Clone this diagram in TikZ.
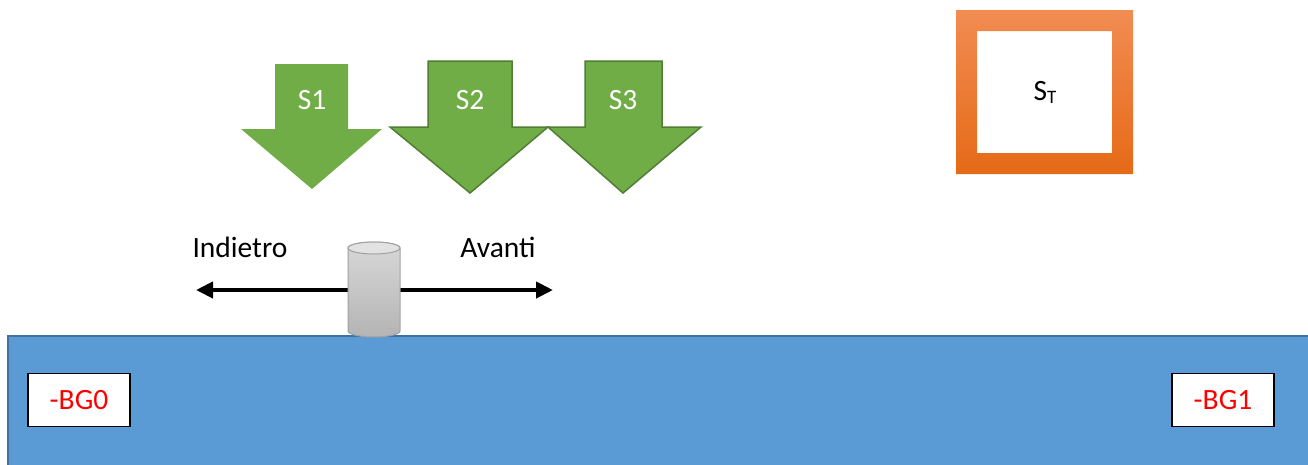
\documentclass[tikz,border=0pt]{standalone}
\usepackage{fontspec}
\setmainfont{Carlito}
\usetikzlibrary{arrows.meta}
\definecolor{grn}{HTML}{70AD47}
\definecolor{grnline}{HTML}{507E32}
\definecolor{barblue}{HTML}{5B9BD5}
\definecolor{barline}{HTML}{41719C}
\definecolor{orgtop}{HTML}{F28C52}
\definecolor{orgbot}{HTML}{E56A17}
\definecolor{cyltop}{HTML}{E2E2E2}
\definecolor{cylA}{HTML}{D8D8D8}
\definecolor{cylB}{HTML}{B4B4B4}
\definecolor{cylline}{HTML}{A0A0A0}
\begin{document}
\begin{tikzpicture}[x=1pt,y=-1pt,
  txt/.style={font=\fontsize{29.5}{32}\selectfont, inner sep=0pt},
  arrowlabel/.style={txt, text=white},
  bgbox/.style={draw=black, line width=1.2pt, fill=white, text=red,
    minimum width=102pt, minimum height=53pt, inner sep=0pt,
    font=\fontsize{29.5}{32}\selectfont},
  greenarrow/.style={fill=grn},
  greenarrowline/.style={fill=grn, draw=grnline, line width=1.5pt, line join=miter},
  movearrow/.style={line width=4pt, {Triangle[length=17pt,width=16pt]}-{Triangle[length=17pt,width=16pt]}}
]
\useasboundingbox (0,0) rectangle (1308,464);
\fill[white] (0,0) rectangle (1308,464);

% blue bar
\draw[fill=barblue, draw=barline, line width=2pt] (8,336) rectangle (1316,472);
\node[bgbox] (bg0) at (79,400) {-BG0};
\node[bgbox] (bg1) at (1223,400) {-BG1};

% green arrows
\fill[greenarrow] (275,64) -- (348,64) -- (348,129) -- (382,129) -- (312,189) -- (241,129) -- (275,129) -- cycle;
\draw[greenarrowline] (428,61) -- (512,61) -- (512,127) -- (548,127) -- (470,193) -- (390,127) -- (428,127) -- cycle;
\draw[greenarrowline] (585,61) -- (662,61) -- (662,127) -- (701,127) -- (623,193) -- (548,127) -- (585,127) -- cycle;
\node[arrowlabel] (s1) at (312,100) {S1};
\node[arrowlabel] (s2) at (470,100) {S2};
\node[arrowlabel] (s3) at (623,100) {S3};

% movement arrow
\coordinate (L) at (196,290);
\coordinate (R) at (553,290);
\draw[movearrow] (L) -- (R);
\node[txt] (ind) at (240,247) {Indietro};
\node[txt] (ava) at (498,247) {Avanti};

% cylinder
\path[top color=cylA, bottom color=cylB, draw=cylline, line width=1pt]
  (348,248) -- (348,331) arc[start angle=180, end angle=360, x radius=26pt, y radius=6pt]
  -- (400,248) arc[start angle=0, end angle=180, x radius=26pt, y radius=6pt] -- cycle;
\draw[fill=cyltop, draw=cylline, line width=1pt] (374,248) ellipse [x radius=26pt, y radius=6pt];

% ST frame
\path[top color=orgtop, bottom color=orgbot, even odd rule]
  (956,10) rectangle (1133,174) (977,31) rectangle (1112,153);
\node[txt] (st) at (1045,92) {S{\fontsize{19}{19}\selectfont\raisebox{-3pt}{T}}};
\end{tikzpicture}
\end{document}
